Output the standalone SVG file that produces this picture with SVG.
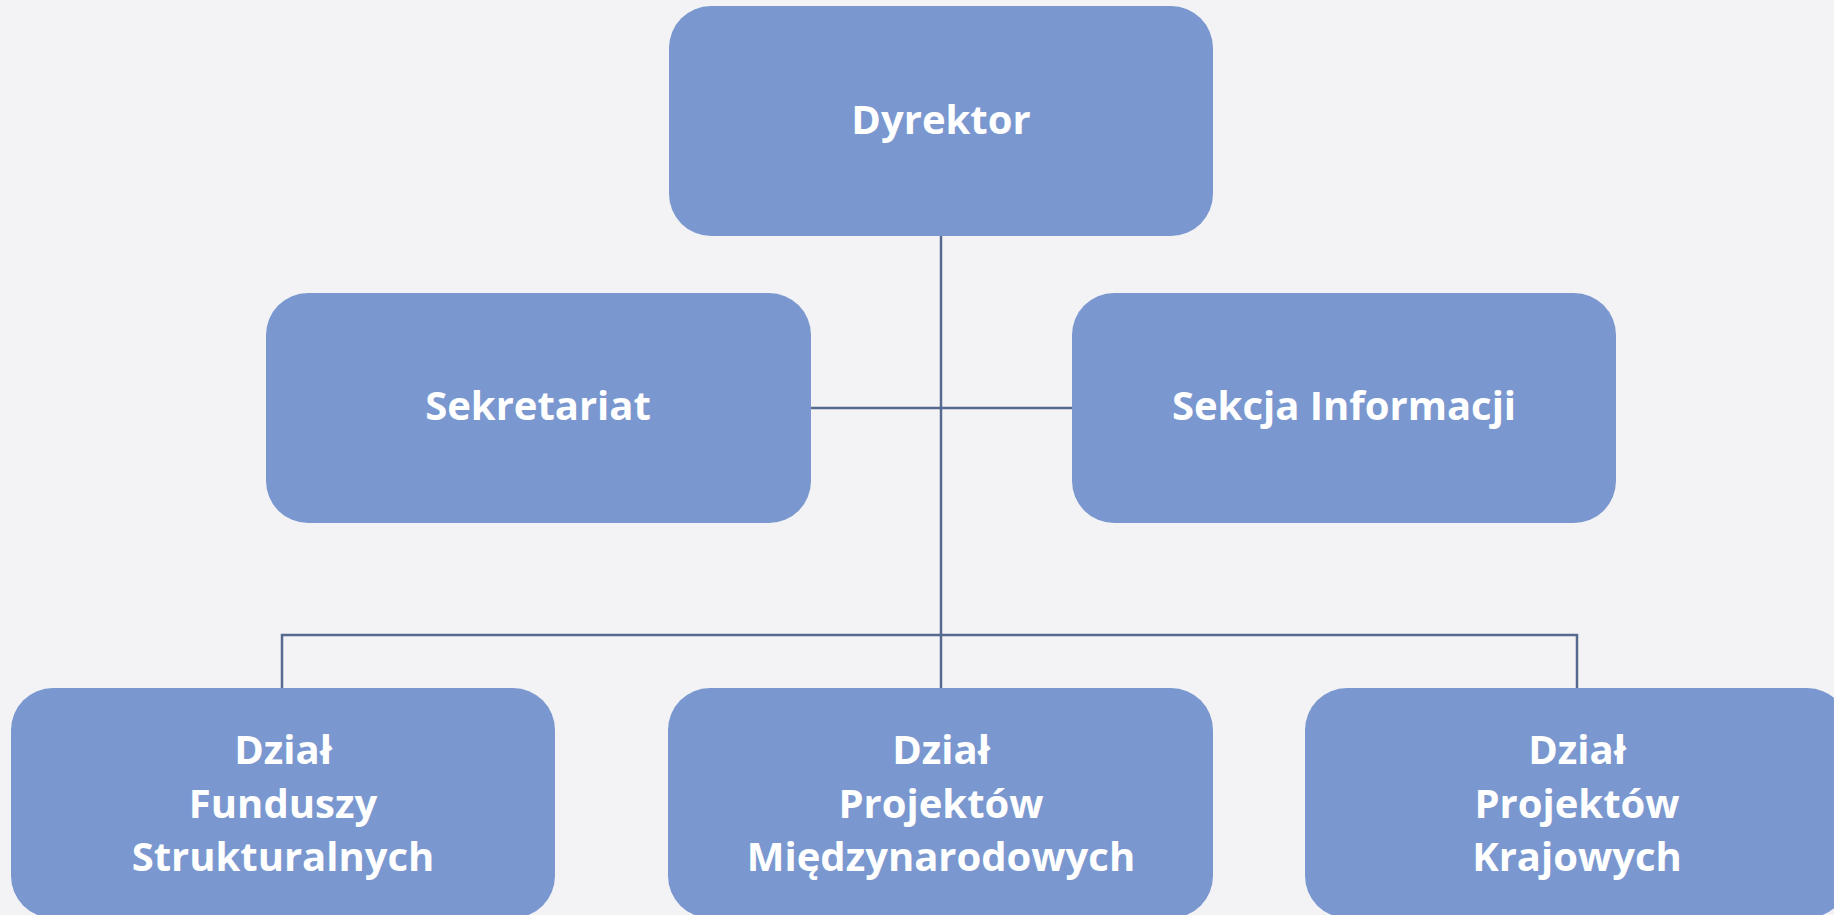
<svg xmlns="http://www.w3.org/2000/svg" width="1834" height="915" viewBox="0 0 1834 915">
<style>
.box{fill:#7a98cf;}
.lbl{font-family:"Open Sans","Liberation Sans",sans-serif;font-weight:bold;font-size:40px;fill:#ffffff;text-anchor:middle;}
.conn{stroke:#56698f;stroke-width:2.5;fill:none;}
</style>
<rect x="0" y="0" width="1834" height="915" fill="#f3f3f5"/>
<g id="connectors">
<path class="conn" d="M941 236 V688"/>
<path class="conn" d="M811 408 H1072"/>
<path class="conn" d="M282 688 V635 H1577 V688"/>
</g>
<g id="dyrektor">
<rect class="box" x="669" y="6" width="544" height="230" rx="42"/>
<text class="lbl" x="941" y="134">Dyrektor</text>
</g>
<g id="sekretariat">
<rect class="box" x="266" y="293" width="545" height="230" rx="42"/>
<text class="lbl" x="538" y="420">Sekretariat</text>
</g>
<g id="sekcja-informacji">
<rect class="box" x="1072" y="293" width="544" height="230" rx="42"/>
<text class="lbl" x="1344" y="420">Sekcja Informacji</text>
</g>
<g id="dzial-funduszy">
<rect class="box" x="11" y="688" width="544" height="230" rx="42"/>
<text class="lbl" x="283" y="764">Dział</text>
<text class="lbl" x="283" y="818">Funduszy</text>
<text class="lbl" x="283" y="871">Strukturalnych</text>
</g>
<g id="dzial-miedzynarodowych">
<rect class="box" x="668" y="688" width="545" height="230" rx="42"/>
<text class="lbl" x="941" y="764">Dział</text>
<text class="lbl" x="941" y="818">Projektów</text>
<text class="lbl" x="941" y="871">Międzynarodowych</text>
</g>
<g id="dzial-krajowych">
<rect class="box" x="1305" y="688" width="544" height="230" rx="42"/>
<text class="lbl" x="1577" y="764">Dział</text>
<text class="lbl" x="1577" y="818">Projektów</text>
<text class="lbl" x="1577" y="871">Krajowych</text>
</g>
</svg>
